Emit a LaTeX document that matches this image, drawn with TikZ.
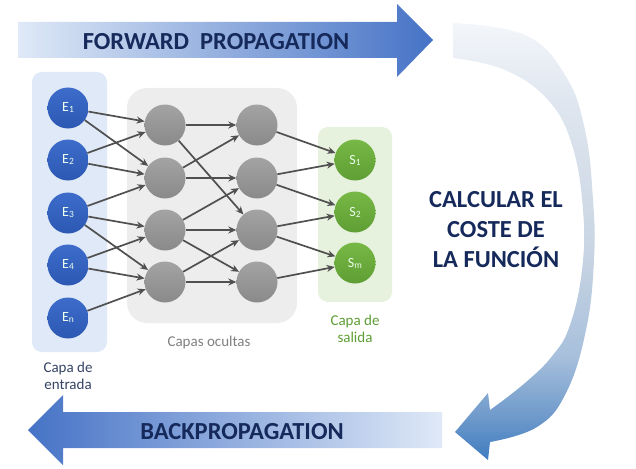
\documentclass[tikz,border=0pt]{standalone}
\usepackage{fontspec}
\setmainfont{Carlito}
\usetikzlibrary{arrows.meta, positioning}
\definecolor{navy}{HTML}{15295B}
\definecolor{linkgray}{HTML}{505050}
\definecolor{inblue}{HTML}{3D6CCB}
\definecolor{inbluedark}{HTML}{2C58B2}
\definecolor{ingreen}{HTML}{78B846}
\definecolor{ingreendark}{HTML}{5E9E34}
\definecolor{arrowblue}{HTML}{4673C6}
\definecolor{arrowlight}{HTML}{DFE9F7}
\definecolor{curvA}{HTML}{3E7CC0}
\definecolor{curvB}{HTML}{6F9ACB}
\definecolor{curvC}{HTML}{A8C0DC}
\definecolor{curvD}{HTML}{C9D5E3}
\definecolor{curvE}{HTML}{DFE6EF}
\definecolor{curvF}{HTML}{F3F6FA}
\pgfdeclareverticalshading{curvshade}{100bp}{color(0bp)=(curvA); color(25bp)=(curvA);
    color(30bp)=(curvB); color(37bp)=(curvC); color(49bp)=(curvD); color(66bp)=(curvE);
    color(75bp)=(curvF); color(100bp)=(curvF)}
\newcommand{\idx}[1]{\raisebox{-1pt}{\fontsize{9.5}{9.5}\selectfont #1}}

\begin{document}
\begin{tikzpicture}[x=1pt, y=-1pt,
    link/.style={-{Stealth[length=8pt,width=7pt]}, line width=1.7pt, draw=linkgray},
    neuron/.style={circle, minimum size=41pt, inner sep=0pt, text=white!92!green,
                   font=\fontsize{14}{14}\selectfont},
    inneuron/.style={neuron, top color=inblue, bottom color=inbluedark},
    hidneuron/.style={neuron, top color=black!36, bottom color=black!46},
    outneuron/.style={neuron, top color=ingreen, bottom color=ingreendark},
    caption/.style={align=center, font=\fontsize{15}{17}\selectfont},
    bigtitle/.style={text=navy, font=\fontsize{24.5}{30}\selectfont\bfseries}]
    \useasboundingbox (0,0) rectangle (636,468);

    % Forward and backward arrows
    \shade[left color=arrowlight, right color=arrowblue]
        (18,22) -- (397,22) -- (397,4) -- (433,40) -- (397,77) -- (397,58) -- (18,58) -- cycle;
    \shade[left color=arrowblue, right color=arrowlight]
        (442,412) -- (63,412) -- (63,395) -- (28,430) -- (63,465) -- (63,448) -- (442,448) -- cycle;
    \node[bigtitle] (fwd) at (216,42) {FORWARD\ \ PROPAGATION};
    \node[bigtitle] (bwd) at (242,432) {BACKPROPAGATION};

    % Curved arrow
    \shade[shading=curvshade]
        plot[smooth, tension=0.7] coordinates
            {(453,23) (525,35) (565,75) (585,130) (593,200) (594,260) (586,330) (566,393) (537,427) (490,442)}
        -- (488,460) -- (455,432) -- (488,393) -- (490,410)
        -- plot[smooth, tension=0.7] coordinates
            {(490,410) (525,383) (553,355) (570,325) (582,270) (583,210) (572,145) (548,100) (505,70) (453,58)}
        -- cycle;
    \node[bigtitle, align=center] (cost) at (496,230) {CALCULAR EL\\COSTE DE\\LA FUNCIÓN};

    % Layer boxes
    \fill[arrowlight, rounded corners=10pt] (32,72) rectangle (107,352);
    \fill[black!7, rounded corners=20pt] (127,88) rectangle (297,323);
    \fill[ingreen!18!white, rounded corners=10pt] (318,127) rectangle (392,302);
    \node[caption, text=navy!70!gray] (lblin) at (68,376) {Capa de\\entrada};
    \node[caption, text=black!50] (lblhid) at (209,342) {Capas ocultas};
    \node[caption, text=ingreendark] (lblout) at (355,329) {Capa de\\salida};

    % Neurons
    \node[inneuron] (e1) at (68,108) {E\idx{1}};
    \node[inneuron] (e2) at (68,160) {E\idx{2}};
    \node[inneuron] (e3) at (68,213) {E\idx{3}};
    \node[inneuron] (e4) at (68,265) {E\idx{4}};
    \node[inneuron] (en) at (68,318) {E\idx{n}};
    \foreach \i/\y in {1/125,2/178,3/230,4/282} {
        \node[hidneuron] (h\i) at (165,\y) {};
        \node[hidneuron] (g\i) at (257,\y) {};
    }
    \node[outneuron] (s1) at (355,160) {S\idx{1}};
    \node[outneuron] (s2) at (355,212) {S\idx{2}};
    \node[outneuron] (sm) at (355,263) {S\idx{m}};

    % Connections
    \foreach \a/\b in {e1/h1,e1/h2,e2/h1,e2/h2,e3/h2,e3/h3,e3/h4,e4/h3,e4/h4,en/h4,
                       h1/g1,h1/g3,h2/g1,h2/g2,h3/g2,h3/g3,h3/g4,h4/g3,h4/g4,
                       g1/s1,g2/s1,g2/s2,g3/s2,g3/sm,g4/sm}
        \draw[link] (\a) -- (\b);
\end{tikzpicture}
\end{document}
